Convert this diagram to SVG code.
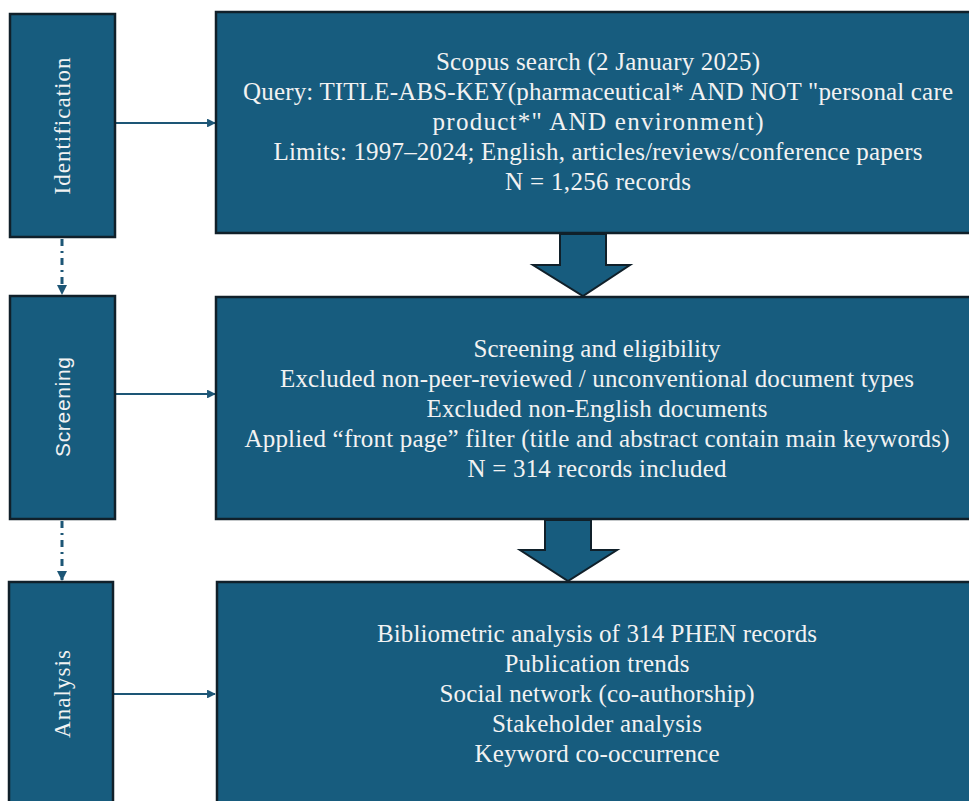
<svg xmlns="http://www.w3.org/2000/svg" width="969" height="801" viewBox="0 0 969 801">
<style>
.box{fill:#175c7e;stroke:#10202a;stroke-width:2.5}
.t{font-family:"Liberation Serif","Times New Roman",serif;font-size:25px;fill:#f2f2f2;text-anchor:middle}
.lab{font-family:"Liberation Serif","Times New Roman",serif;font-size:23px;fill:#f2f2f2;text-anchor:middle}
.labs{font-family:"Liberation Sans",Arial,sans-serif;font-size:21px;fill:#f2f2f2;text-anchor:middle}
.conn{stroke:#1d5676;stroke-width:2.2;fill:none}
.dash{stroke:#1d5676;stroke-width:3;fill:none;stroke-dasharray:7 5 2 5}
.block{fill:#175c7e;stroke:#10202a;stroke-width:2;stroke-linejoin:miter}
</style>
<defs>
<marker id="ah" viewBox="0 0 10 10" refX="9" refY="5" markerWidth="4" markerHeight="4" orient="auto" markerUnits="strokeWidth">
<path d="M0,0 L10,5 L0,10 z" fill="#1d5676"/>
</marker>
<marker id="ahd" viewBox="0 0 10 10" refX="9" refY="5" markerWidth="3.4" markerHeight="3.4" orient="auto" markerUnits="strokeWidth">
<path d="M0,0 L10,5 L0,10 z" fill="#1d5676"/>
</marker>
</defs>
<rect width="969" height="801" fill="#ffffff"/>

<g id="connectors">
<line class="conn" x1="116" y1="123" x2="215" y2="123" marker-end="url(#ah)"/>
<line class="conn" x1="116" y1="394" x2="215" y2="394" marker-end="url(#ah)"/>
<line class="conn" x1="114" y1="694" x2="215" y2="694" marker-end="url(#ah)"/>
<line class="dash" x1="62" y1="239" x2="62" y2="294" marker-end="url(#ahd)"/>
<line class="dash" x1="62" y1="521" x2="62" y2="580" marker-end="url(#ahd)"/>
<path id="block1" class="block" d="M560,234 L606,234 L606,265 L630,265 L583,296 L533,265 L560,265 Z"/>
<path id="block2" class="block" d="M545,520 L591,520 L591,550 L617,550 L568,581 L520,550 L545,550 Z"/>
</g>

<g id="identification">
<rect class="box" x="10" y="14" width="105" height="223"/>
<text class="lab" transform="translate(62,126) rotate(-90)" dominant-baseline="central" textLength="137">Identification</text>
</g>

<g id="screening">
<rect class="box" x="10" y="296" width="105" height="223"/>
<text class="labs" transform="translate(62,407) rotate(-90)" dominant-baseline="central" textLength="100">Screening</text>
</g>

<g id="analysis">
<rect class="box" x="9" y="582" width="104" height="240"/>
<text class="lab" transform="translate(62,694) rotate(-90)" dominant-baseline="central" textLength="88">Analysis</text>
</g>

<g id="search">
<rect class="box" x="216" y="12" width="760" height="221"/>
<text class="t" x="598" y="70" textLength="324">Scopus search (2 January 2025)</text>
<text class="t" x="598" y="100" textLength="710">Query: TITLE-ABS-KEY(pharmaceutical* AND NOT "personal care</text>
<text class="t" x="598" y="130" textLength="331">product*" AND environment)</text>
<text class="t" x="598" y="160" textLength="649">Limits: 1997–2024; English, articles/reviews/conference papers</text>
<text class="t" x="598" y="190" textLength="186">N = 1,256 records</text>
</g>

<g id="screening-eligibility">
<rect class="box" x="216" y="297" width="760" height="222"/>
<text class="t" x="597" y="357" textLength="247">Screening and eligibility</text>
<text class="t" x="597" y="387" textLength="634">Excluded non-peer-reviewed / unconventional document types</text>
<text class="t" x="597" y="417" textLength="341">Excluded non-English documents</text>
<text class="t" x="597" y="447" textLength="705">Applied “front page” filter (title and abstract contain main keywords)</text>
<text class="t" x="597" y="477" textLength="259">N = 314 records included</text>
</g>

<g id="bibliometric">
<rect class="box" x="217" y="582" width="760" height="240"/>
<text class="t" x="597" y="642" textLength="440">Bibliometric analysis of 314 PHEN records</text>
<text class="t" x="597" y="672" textLength="185">Publication trends</text>
<text class="t" x="597" y="702" textLength="315">Social network (co-authorship)</text>
<text class="t" x="597" y="732" textLength="210">Stakeholder analysis</text>
<text class="t" x="597" y="762" textLength="245">Keyword co-occurrence</text>
</g>
</svg>
